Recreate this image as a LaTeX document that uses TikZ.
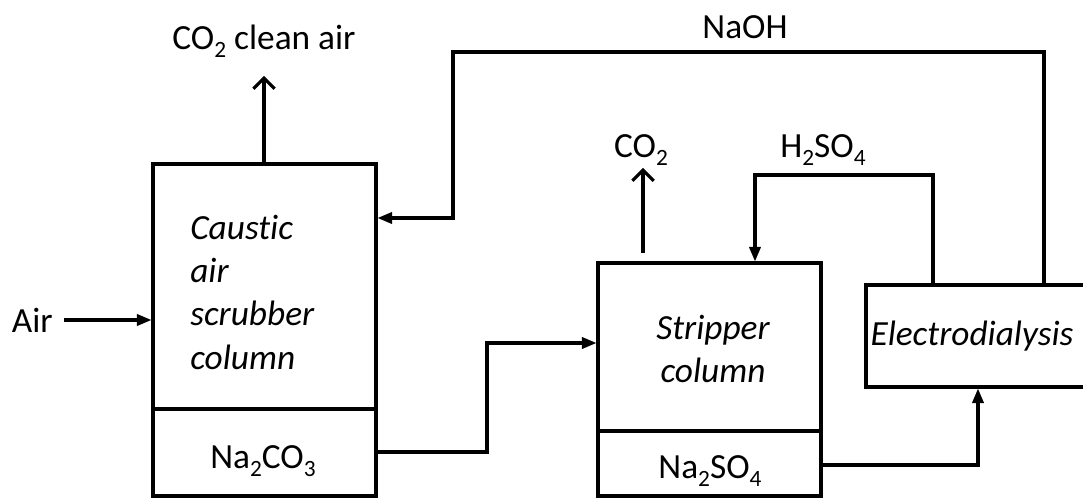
\documentclass[tikz,border=0pt]{standalone}
\usepackage{fontspec}
\setmainfont{Carlito}[Ligatures=NoCommon]
\usetikzlibrary{arrows.meta}
\newcommand{\chemsub}[1]{\raisebox{-0.24em}{\fontsize{17.5}{17.5}\selectfont #1}}
\begin{document}
\begin{tikzpicture}[x=0.75pt,y=-0.75pt,
  lw/.style={line width=2.3pt},
  unit/.style={draw,lw,rectangle,inner sep=0pt},
  lbl/.style={inner sep=0pt,font=\fontsize{26.5}{32}\selectfont},
  ilbl/.style={inner sep=0pt,font=\fontsize{26.5}{32.5}\selectfont\itshape},
  flow/.style={lw,-{Triangle[length=11pt,width=8.5pt]}},
  vent/.style={lw,-{Straight Barb[length=8pt,width=16pt,line width=2.3pt]}},
  pipe/.style={lw}]
\useasboundingbox (0,0) rectangle (1083,498);
\begin{scope}
\clip (0,0) rectangle (1083,498);
% units
\node[unit,minimum width=223*0.75pt,minimum height=332*0.75pt] (scrub) at (264.5,330) {};
\node[unit,minimum width=223*0.75pt,minimum height=233*0.75pt] (strip) at (709.5,379.5) {};
\node[unit,minimum width=250*0.75pt,minimum height=102*0.75pt] (ed) at (991,336) {};
\draw[lw] (scrub.west |- 0,409) -- (scrub.east |- 0,409);
\draw[lw] (strip.west |- 0,431) -- (strip.east |- 0,431);
% texts inside
\node[ilbl,anchor=west,align=left] (scrubtxt) at (190,292) {Caustic\\air\\scrubber\\column};
\node[ilbl,align=center] (striptxt) at (713,349) {Stripper\\column};
\node[ilbl] (edtxt) at (972,336) {Electrodialysis};
\node[lbl] (na2co3) at (263,461) {Na\chemsub{2}CO\chemsub{3}};
\node[lbl] (na2so4) at (710,471) {Na\chemsub{2}SO\chemsub{4}};
% outside labels
\node[lbl] (clean) at (264,41) {CO\chemsub{2} clean air};
\node[lbl,anchor=east] (air) at (53,320) {Air};
\node[lbl] (naoh) at (745,27) {NaOH};
\node[lbl] (co2) at (641,150) {CO\chemsub{2}};
\node[lbl] (h2so4) at (823,150) {H\chemsub{2}SO\chemsub{4}};
% connectors
\coordinate (cleantip) at (264,76);
\draw[vent] (scrub.north -| cleantip) -- (cleantip);
\coordinate (airstart) at (64,320);
\draw[flow] (airstart) -- (scrub.west |- airstart);
\coordinate (co2base) at (643,253);
\coordinate (co2tip) at (643,168);
\draw[vent] (co2base) -- (co2tip);
\draw[flow] (ed.north -| 1044,0) -- (1044,52) -- (453,52) -- (453,218) -- (scrub.east |- 0,218);
\draw[flow] (ed.north -| 933,0) -- (933,175) -- (755,175) -- (strip.north -| 755,0);
\draw[flow] (scrub.east |- 0,452) -- (487,452) -- (487,343) -- (strip.west |- 0,343);
\draw[flow] (strip.east |- 0,465) -- (978,465) -- (ed.south -| 978,0);
\end{scope}
\end{tikzpicture}
\end{document}
